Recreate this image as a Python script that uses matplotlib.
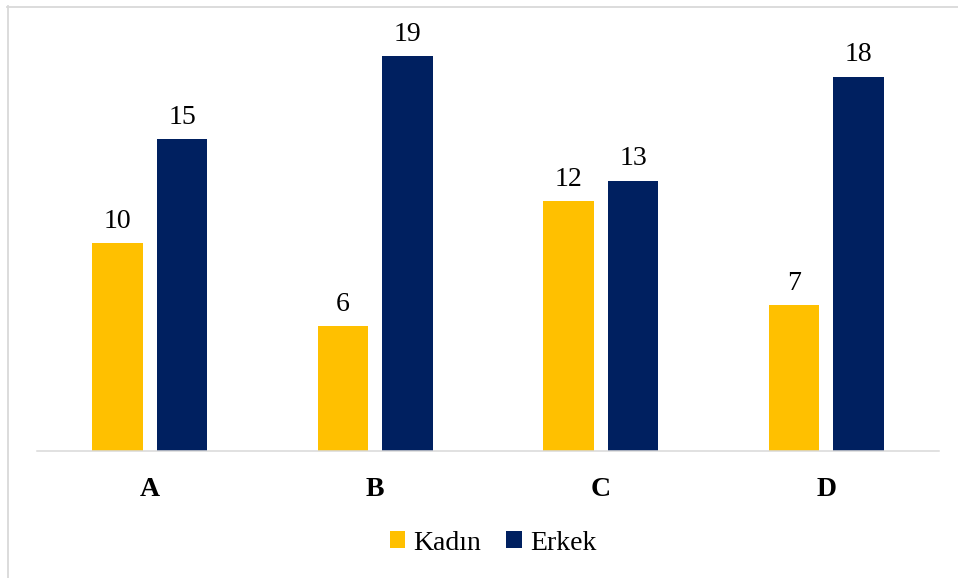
import matplotlib
matplotlib.use("Agg")
import matplotlib.pyplot as plt
import numpy as np
from matplotlib.lines import Line2D
from matplotlib.patches import Patch

categories = ["A", "B", "C", "D"]
kadin = [10, 6, 12, 7]
erkek = [15, 19, 13, 18]
series_names = ["Kadın", "Erkek"]
colors = ["#FFC000", "#002060"]

W, H = 958, 578
fig = plt.figure(figsize=(W / 100, H / 100), dpi=100)
plt.rcParams["font.family"] = ["Liberation Serif", "DejaVu Serif"]

ax = fig.add_axes([37 / W, 127 / H, 902 / W, 416 / H])
x = np.arange(len(categories))
bw = 0.226
off = 0.143
b1 = ax.bar(x - off, kadin, width=bw, color=colors[0], label=series_names[0])
b2 = ax.bar(x + off, erkek, width=bw, color=colors[1], label=series_names[1])

for bars, vals in ((b1, kadin), (b2, erkek)):
    for rect, v in zip(bars, vals):
        ax.annotate(str(v), (rect.get_x() + rect.get_width() / 2, v),
                    xytext=(0, 11), textcoords="offset points",
                    ha="center", va="baseline", fontsize=20, color="#000000")

ax.set_xlim(-0.5, len(categories) - 0.5)
ax.set_ylim(0, 20)
ax.set_xticks(x)
ax.set_xticklabels(categories, fontsize=20, fontweight="bold")
ax.tick_params(axis="x", length=0, pad=19)
ax.set_yticks([])
for s in ("left", "right", "top"):
    ax.spines[s].set_visible(False)
ax.spines["bottom"].set_color("#d9d9d9")
ax.spines["bottom"].set_linewidth(1.1)

# outer chart-area frame (left and top edges)
fig.add_artist(Line2D([7.5 / W, 7.5 / W], [0, 1 - 6 / H], transform=fig.transFigure,
                      color="#d9d9d9", linewidth=1.3))
fig.add_artist(Line2D([7 / W, 1], [1 - 6.5 / H, 1 - 6.5 / H], transform=fig.transFigure,
                      color="#d9d9d9", linewidth=1.3))

handles = [Patch(facecolor=c, edgecolor="none") for c in colors]
fig.legend(handles, series_names, loc="center", bbox_to_anchor=(493 / W, 1 - 543 / H),
           ncol=2, frameon=False, fontsize=20, handlelength=0.55, handleheight=0.55,
           handletextpad=0.3, columnspacing=0.9)

fig.savefig("out.png", dpi=100)
